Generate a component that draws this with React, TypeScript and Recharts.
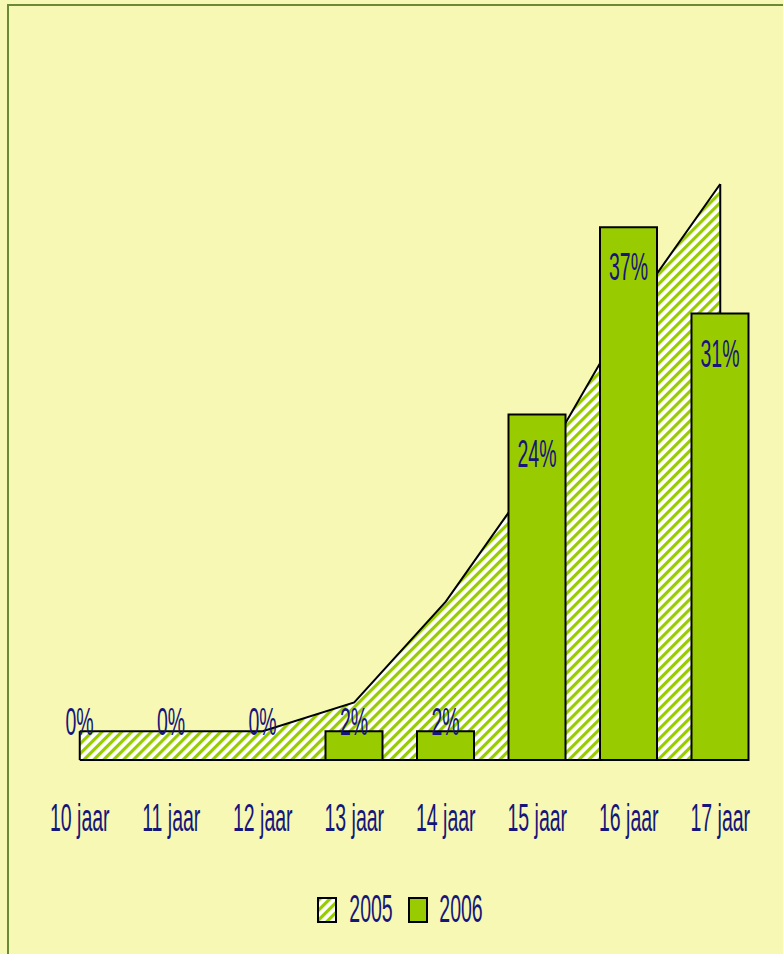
import { ComposedChart, Area, Bar, XAxis, YAxis, LabelList, ReferenceLine, Cell } from "recharts";

const ages = ["10 jaar", "11 jaar", "12 jaar", "13 jaar", "14 jaar", "15 jaar", "16 jaar", "17 jaar"];
const share2005 = [2, 2, 2, 4, 11, 20, 31, 40];
const share2006 = [0, 0, 0, 2, 2, 24, 37, 31];
const seriesNames = ["2005", "2006"];

const data = ages.map((age, i) => ({ age, y2005: share2005[i], y2006: share2006[i] }));

const BG = "#f6f8b4";
const INK = "#15157a";
const LIME = "#99cc00";
const FONT = "'Liberation Sans', Arial, sans-serif";
const SQUEEZE = 0.5;

// condensed lettering: squeeze the glyphs horizontally
function Squeezed({ x, y, text }: { x: number; y: number; text: string }) {
  return (
    <g transform={`translate(${x},${y}) scale(${SQUEEZE},1)`}>
      <text x={0} y={0} textAnchor="middle" fontSize={39} fill={INK} fontFamily={FONT}>
        {text}
      </text>
    </g>
  );
}

function Hatch({ id }: { id: string }) {
  return (
    <pattern id={id} patternUnits="userSpaceOnUse" width={7} height={10} patternTransform="rotate(45)">
      <rect x={0} y={0} width={7} height={10} fill="#ffffff" />
      <rect x={0} y={0} width={3.2} height={10} fill={LIME} />
    </pattern>
  );
}

function AgeTick(props: any) {
  const { x, y, payload } = props;
  return <Squeezed x={x} y={y + 71} text={payload.value} />;
}

function ValueLabel(props: any) {
  const { x, y, width, height, value } = props;
  const base = Math.min(y + 53, y + height - 25);
  return <Squeezed x={x + width / 2} y={base} text={`${value}%`} />;
}

function LegendBox() {
  return (
    <svg width={783} height={60} style={{ position: "absolute", left: 0, top: 880 }}>
      <defs>
        <Hatch id="hatchLegend" />
      </defs>
      <rect x={318} y={18} width={18} height={24} fill="url(#hatchLegend)" stroke="#000" strokeWidth={2} />
      <Squeezed x={371} y={42} text={seriesNames[0]} />
      <rect x={409} y={18} width={18} height={24} fill={LIME} stroke="#000" strokeWidth={2} />
      <Squeezed x={461} y={42} text={seriesNames[1]} />
    </svg>
  );
}

export default function App() {
  const last = ages.length - 1;
  return (
    <div style={{ position: "absolute", left: 0, top: 0, width: 783, height: 954, background: BG, overflow: "hidden" }}>
      <div
        style={{
          position: "absolute",
          left: 7,
          top: 4,
          width: 820,
          height: 1000,
          border: "2px solid #6a8a35",
          boxSizing: "border-box",
        }}
      />
      <div style={{ position: "absolute", left: 0, top: 0 }}>
        <ComposedChart width={783} height={954} data={data} margin={{ top: 112, right: 17, bottom: 134, left: 34 }}>
          <defs>
            <Hatch id="hatch2005" />
          </defs>
          <XAxis
            dataKey="age"
            interval={0}
            tick={<AgeTick />}
            axisLine={false}
            tickLine={false}
            tickSize={0}
            tickMargin={0}
            height={60}
          />
          <YAxis hide domain={[0, 45]} />
          <Area
            type="linear"
            dataKey="y2005"
            name={seriesNames[0]}
            fill="url(#hatch2005)"
            fillOpacity={1}
            stroke="#000"
            strokeWidth={2}
            dot={false}
            activeDot={false}
            isAnimationActive={false}
          />
          {/* outline of the 2005 area: base and both ends, kept beneath the bars */}
          <ReferenceLine zIndex={150} segment={[{ x: ages[0], y: 0 }, { x: ages[last], y: 0 }]} stroke="#000" strokeWidth={2} />
          <ReferenceLine zIndex={150} segment={[{ x: ages[0], y: 0 }, { x: ages[0], y: share2005[0] }]} stroke="#000" strokeWidth={2} />
          <ReferenceLine zIndex={150} segment={[{ x: ages[last], y: 0 }, { x: ages[last], y: share2005[last] }]} stroke="#000" strokeWidth={2} />
          <Bar
            dataKey="y2006"
            name={seriesNames[1]}
            barSize={57}
            minPointSize={1}
            fill={LIME}
            stroke="#000"
            strokeWidth={2}
            isAnimationActive={false}
          >
            {share2006.map((v, i) => (
              <Cell key={ages[i]} fillOpacity={v === 0 ? 0 : 1} strokeOpacity={v === 0 ? 0 : 1} />
            ))}
            <LabelList dataKey="y2006" content={<ValueLabel />} />
          </Bar>
        </ComposedChart>
      </div>
      <LegendBox />
    </div>
  );
}
